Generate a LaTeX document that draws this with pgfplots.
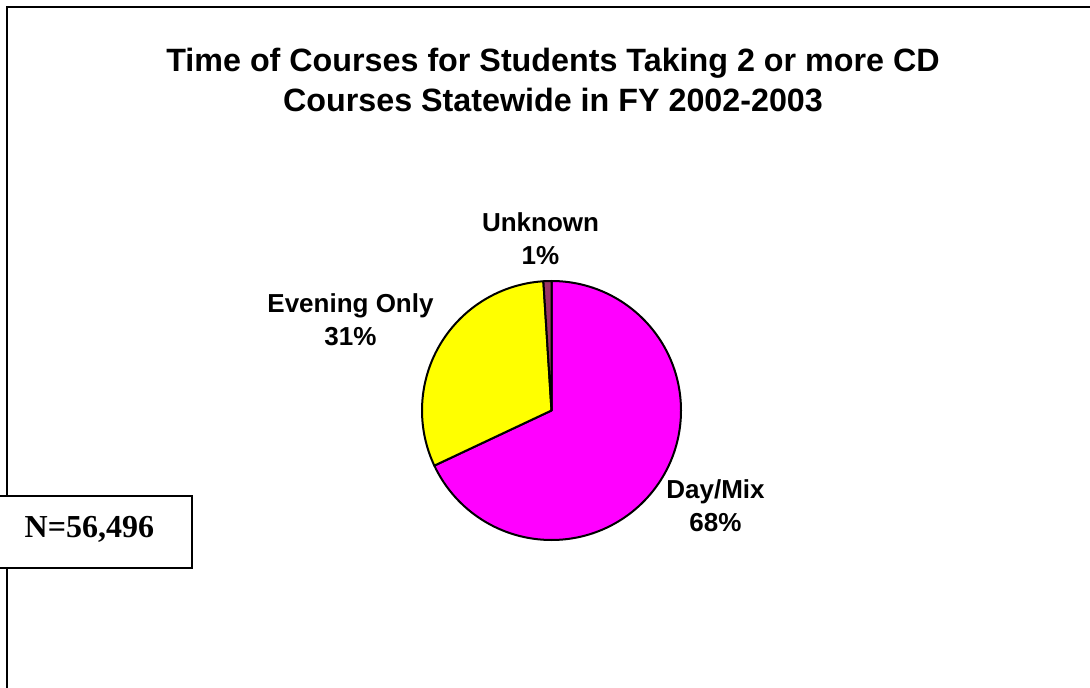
\documentclass[border=0pt]{standalone}
\usepackage{pgfplots}
\pgfplotsset{compat=1.18}
\usepackage{fontspec}
\setmainfont{Liberation Sans}
\newfontfamily\timesfont{Liberation Serif}

\definecolor{daymix}{HTML}{FF00FF}
\definecolor{evening}{HTML}{FFFF00}
\definecolor{unknown}{HTML}{993366}

% shares in percent, starting at 12 o'clock
\def\vUnknown{1}
\def\vEvening{31}
\def\vDay{68}

\begin{document}
\begin{tikzpicture}
\begin{scope}[x=0.75pt,y=-0.75pt]
  \useasboundingbox (0,0) rectangle (1090,688);
  \fill[white] (0,0) rectangle (1090,688);
  \draw[line width=1.7pt] (7,690) -- (7,7) -- (1092,7);

  \node[anchor=base, font=\bfseries\fontsize{24.2}{28}\selectfont] at (553,71.7)
    {Time of Courses for Students Taking 2 or more CD};
  \node[anchor=base, font=\bfseries\fontsize{24.2}{28}\selectfont] at (553,111.7)
    {Courses Statewide in FY 2002-2003};

  \node[anchor=base, font=\bfseries\fontsize{19.5}{23}\selectfont] at (540.5,232) {Unknown};
  \node[anchor=base, font=\bfseries\fontsize{19.5}{23}\selectfont] at (540.5,265) {1\%};
  \node[anchor=base, font=\bfseries\fontsize{19.5}{23}\selectfont] at (350.5,313) {Evening Only};
  \node[anchor=base, font=\bfseries\fontsize{19.5}{23}\selectfont] at (350.5,345) {31\%};
  \node[anchor=base, font=\bfseries\fontsize{19.5}{23}\selectfont] at (715.5,498) {Day/Mix};
  \node[anchor=base, font=\bfseries\fontsize{19.5}{23}\selectfont] at (715.5,531) {68\%};

  \draw[line width=1.6pt, fill=white] (-2,496) rectangle (192,568);
  \node[anchor=base west, font=\timesfont\bfseries\fontsize{24}{28}\selectfont] at (20,537) {N=56,496};
\end{scope}

\pgfmathsetmacro{\aA}{90+\vUnknown*3.6}
\pgfmathsetmacro{\aB}{\aA+\vEvening*3.6}
\pgfmathsetmacro{\aC}{\aB-360}
\begin{axis}[
  at={(413.625pt,-307.875pt)}, anchor=center,
  x=0.75pt, y=0.75pt,
  xmin=-135, xmax=135, ymin=-135, ymax=135,
  hide axis,
]
  \filldraw[fill=daymix, draw=black, line width=1.5pt, line join=round]
    (axis cs:0,0) -- (axis cs:0,129.5)
    arc[start angle=90, end angle=\aC, radius=97.125pt] -- cycle;
  \filldraw[fill=evening, draw=black, line width=1.5pt, line join=round]
    (axis cs:0,0) -- (axis cs:{129.5*cos(\aA)},{129.5*sin(\aA)})
    arc[start angle=\aA, end angle=\aB, radius=97.125pt] -- cycle;
  \filldraw[fill=unknown, draw=black, line width=1.5pt, line join=round]
    (axis cs:0,0) -- (axis cs:0,129.5)
    arc[start angle=90, end angle=\aA, radius=97.125pt] -- cycle;
\end{axis}
\end{tikzpicture}
\end{document}
